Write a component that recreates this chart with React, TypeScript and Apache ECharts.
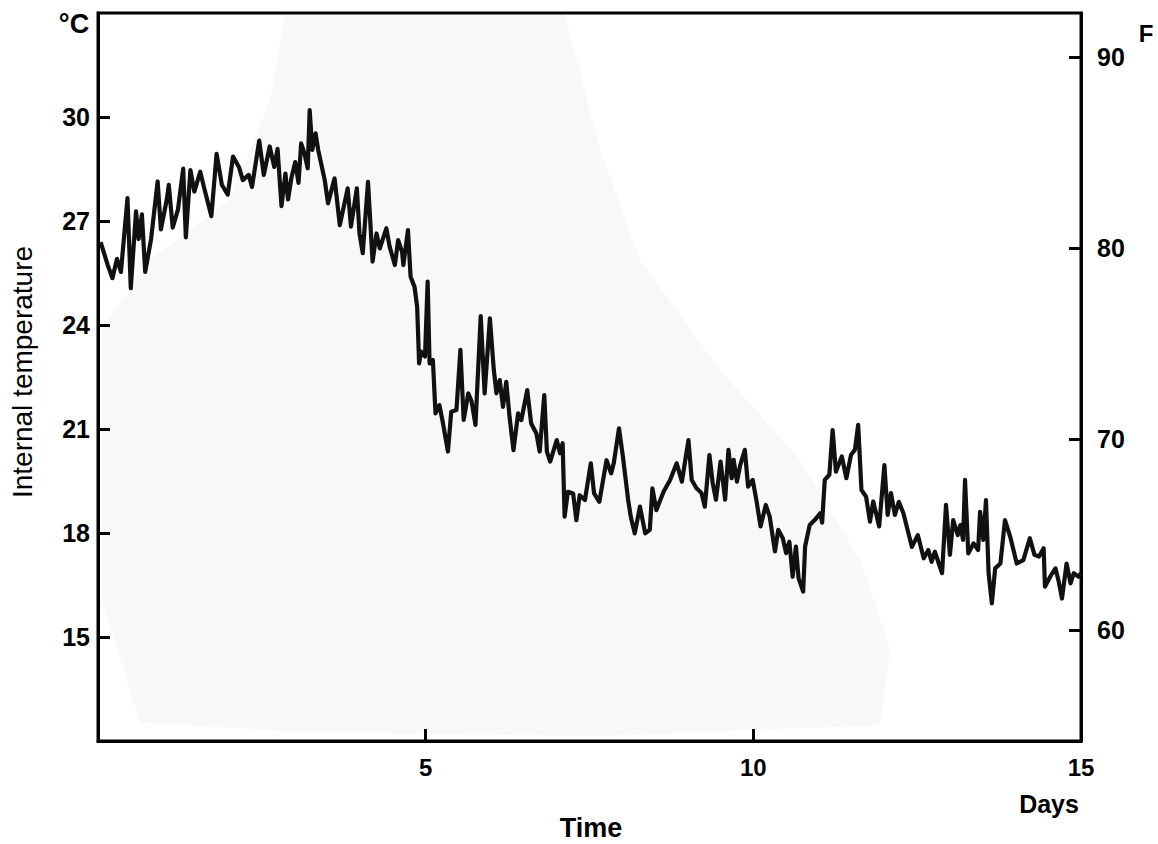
import React, { useEffect, useRef } from "react";
import * as echarts from "echarts";

// Time in days
const days = [
  0.04, 0.15, 0.22, 0.29, 0.35, 0.45, 0.5, 0.58, 0.62, 0.67, 0.72, 0.81, 0.91, 0.96, 1.05, 1.08, 1.14, 1.22, 1.3, 1.34,
  1.41, 1.47, 1.56, 1.62, 1.73, 1.81, 1.89, 1.98, 2.06, 2.15, 2.21, 2.3, 2.35, 2.46, 2.53, 2.62, 2.69, 2.74, 2.8, 2.86,
  2.9, 2.95, 3.01, 3.06, 3.1, 3.15, 3.2, 3.23, 3.27, 3.32, 3.36, 3.46, 3.51, 3.61, 3.69, 3.81, 3.86, 3.95, 3.99, 4.04,
  4.12, 4.19, 4.25, 4.3, 4.4, 4.45, 4.53, 4.58, 4.64, 4.66, 4.73, 4.77, 4.83, 4.87, 4.9, 4.93, 4.99, 5.03, 5.06, 5.11,
  5.15, 5.21, 5.26, 5.34, 5.39, 5.47, 5.53, 5.58, 5.65, 5.7, 5.76, 5.84, 5.9, 5.98, 6.04, 6.08, 6.13, 6.18, 6.23, 6.28,
  6.34, 6.41, 6.46, 6.55, 6.61, 6.69, 6.74, 6.81, 6.85, 6.9, 7.0, 7.05, 7.09, 7.12, 7.17, 7.25, 7.3, 7.35, 7.43, 7.52,
  7.57, 7.65, 7.76, 7.83, 7.87, 7.95, 8.01, 8.09, 8.13, 8.19, 8.27, 8.35, 8.42, 8.46, 8.52, 8.63, 8.73, 8.83, 8.91, 9.01,
  9.06, 9.13, 9.21, 9.26, 9.33, 9.38, 9.43, 9.5, 9.57, 9.62, 9.67, 9.7, 9.75, 9.8, 9.87, 9.92, 9.99, 10.05, 10.11, 10.19,
  10.25, 10.33, 10.38, 10.45, 10.5, 10.55, 10.6, 10.65, 10.69, 10.76, 10.79, 10.86, 10.94, 11.02, 11.05, 11.09, 11.16, 11.21, 11.26, 11.35,
  11.42, 11.49, 11.55, 11.6, 11.65, 11.72, 11.78, 11.83, 11.92, 12.0, 12.05, 12.1, 12.16, 12.22, 12.29, 12.36, 12.42, 12.51, 12.6, 12.67,
  12.72, 12.77, 12.88, 12.94, 13.0, 13.05, 13.12, 13.16, 13.2, 13.23, 13.28, 13.36, 13.43, 13.46, 13.51, 13.55, 13.59, 13.64, 13.69, 13.77,
  13.84, 13.92, 14.02, 14.12, 14.22, 14.29, 14.36, 14.43, 14.45, 14.53, 14.61, 14.66, 14.71, 14.78, 14.84, 14.89, 14.96, 15.0,
];

// Internal temperature, °C
const tempC = [
  26.39, 25.72, 25.35, 25.91, 25.53, 27.66, 25.06, 27.28, 26.48, 27.19, 25.53, 26.48, 28.14, 26.76, 27.62, 28.04, 26.81, 27.33, 28.51, 26.53,
  28.47, 27.85, 28.42, 27.95, 27.14, 28.94, 28.04, 27.76, 28.86, 28.56, 28.18, 28.33, 27.98, 29.32, 28.33, 29.15, 28.56, 29.08, 27.43, 28.37,
  27.62, 28.23, 28.7, 28.1, 29.24, 28.95, 28.52, 30.2, 29.05, 29.53, 29.05, 28.18, 27.51, 28.23, 26.88, 27.94, 26.84, 27.94, 26.64, 26.07,
  28.13, 25.83, 26.64, 26.21, 26.79, 26.26, 25.73, 26.45, 26.11, 25.73, 26.74, 25.39, 25.1, 24.53, 22.89, 23.23, 23.09, 25.25, 22.89, 22.99,
  21.45, 21.69, 21.21, 20.35, 21.5, 21.55, 23.28, 21.26, 22.03, 21.8, 21.12, 24.26, 22.03, 24.19, 22.7, 22.03, 22.41, 21.64, 22.36, 21.35,
  20.39, 21.45, 21.26, 22.12, 21.16, 20.87, 20.35, 21.98, 20.35, 20.06, 20.68, 20.3, 20.59, 18.47, 19.19, 19.14, 18.37, 19.09, 18.95, 20.01,
  19.14, 18.9, 20.1, 19.72, 20.01, 21.02, 20.2, 18.95, 18.47, 17.99, 18.76, 17.99, 18.09, 19.29, 18.66, 19.19, 19.53, 20.01, 19.48, 20.68,
  19.53, 19.3, 19.15, 18.76, 20.25, 19.44, 18.96, 20.06, 18.96, 20.4, 19.58, 20.11, 19.48, 19.96, 20.4, 19.34, 19.53, 18.91, 18.19, 18.81,
  18.47, 17.47, 18.09, 17.85, 17.42, 17.75, 16.74, 17.61, 16.7, 16.31, 17.61, 18.23, 18.38, 18.57, 18.3, 19.53, 19.68, 20.97, 19.77, 20.21,
  19.58, 20.25, 20.4, 21.12, 19.24, 19.05, 18.33, 18.91, 18.19, 19.96, 18.52, 19.15, 18.52, 18.9, 18.57, 18.04, 17.6, 17.94, 17.27, 17.51,
  17.17, 17.46, 16.84, 18.81, 17.37, 18.37, 17.94, 18.23, 17.8, 19.53, 17.41, 17.7, 17.51, 18.61, 17.8, 18.95, 16.84, 15.97, 16.98, 17.12,
  18.37, 17.89, 17.12, 17.22, 17.85, 17.37, 17.32, 17.56, 16.45, 16.74, 16.98, 16.6, 16.11, 17.12, 16.55, 16.84, 16.74, 16.84,
];

const celsiusTicks = [15, 18, 21, 24, 27, 30];
const fahrenheitTicks = [60, 70, 80, 90];
const dayLabels = [5, 10, 15];
const dayTicks = [5, 10];

const FONT = "'Liberation Sans', Arial, Helvetica, sans-serif";

export default function App() {
  const ref = useRef<HTMLDivElement>(null);

  useEffect(() => {
    if (!ref.current) return;
    const chart = echarts.init(ref.current, undefined, { renderer: "svg" });
    const data = days.map((d, i) => [d, tempC[i]]);

    chart.setOption({
      animation: false,
      backgroundColor: "#ffffff",
      grid: {
        left: 98,
        right: 77,
        top: 13,
        bottom: 103,
        show: true,
        borderColor: "#000",
        borderWidth: 3,
        backgroundColor: "transparent",
      },
      xAxis: {
        type: "value",
        min: 0,
        max: 15,
        interval: 5,
        splitLine: { show: false },
        axisLine: { show: true, lineStyle: { color: "#000", width: 3 } },
        axisTick: {
          show: true,
          inside: true,
          length: 12,
          customValues: dayTicks,
          lineStyle: { color: "#000", width: 3 },
        },
        axisLabel: {
          customValues: dayLabels,
          margin: 14,
          color: "#000",
          fontSize: 24,
          fontWeight: "bold",
          fontFamily: FONT,
        },
      },
      yAxis: [
        {
          type: "value",
          min: 12,
          max: 33,
          position: "left",
          splitLine: { show: false },
          axisLine: { show: true, lineStyle: { color: "#000", width: 3 } },
          axisTick: {
            show: true,
            inside: true,
            length: 12,
            customValues: celsiusTicks,
            lineStyle: { color: "#000", width: 3 },
          },
          axisLabel: {
            customValues: celsiusTicks,
            margin: 8,
            color: "#000",
            fontSize: 25,
            fontWeight: "bold",
            fontFamily: FONT,
          },
        },
        {
          type: "value",
          min: 54.2,
          max: 92.3,
          position: "right",
          splitLine: { show: false },
          axisLine: { show: true, lineStyle: { color: "#000", width: 3 } },
          axisTick: {
            show: true,
            inside: true,
            length: 12,
            customValues: fahrenheitTicks,
            lineStyle: { color: "#000", width: 3 },
          },
          axisLabel: {
            customValues: fahrenheitTicks,
            margin: 16,
            color: "#000",
            fontSize: 25,
            fontWeight: "bold",
            fontFamily: FONT,
          },
        },
      ],
      graphic: [
        {
          type: "polygon",
          z: 0,
          silent: true,
          shape: {
            points: [
              [285, 15], [565, 15], [600, 150], [640, 260], [720, 370], [800, 460], [860, 560],
              [890, 650], [880, 725], [600, 736], [300, 732], [140, 722], [102, 600], [102, 330],
              [150, 260], [230, 200], [270, 100],
            ],
          },
          style: { fill: "#f8f8f8" },
        },
        {
          type: "text",
          x: 74,
          y: 24,
          style: { text: "°C", font: `bold 27px ${FONT}`, fill: "#000", align: "center", verticalAlign: "middle" },
        },
        {
          type: "text",
          x: 1146,
          y: 33,
          style: { text: "F", font: `bold 24px ${FONT}`, fill: "#000", align: "center", verticalAlign: "middle" },
        },
        {
          type: "text",
          x: 22,
          y: 372,
          rotation: Math.PI / 2,
          style: {
            text: "Internal temperature",
            font: `28px ${FONT}`,
            fill: "#000",
            align: "center",
            verticalAlign: "middle",
          },
        },
        {
          type: "text",
          x: 591,
          y: 828,
          style: { text: "Time", font: `bold 27px ${FONT}`, fill: "#000", align: "center", verticalAlign: "middle" },
        },
        {
          type: "text",
          x: 1049,
          y: 804,
          style: { text: "Days", font: `bold 25px ${FONT}`, fill: "#000", align: "center", verticalAlign: "middle" },
        },
      ],
      series: [
        {
          type: "line",
          xAxisIndex: 0,
          yAxisIndex: 0,
          data,
          showSymbol: false,
          smooth: false,
          z: 5,
          lineStyle: { color: "#111", width: 4.2, join: "round" },
        },
      ],
    });

    return () => chart.dispose();
  }, []);

  return (
    <div
      ref={ref}
      style={{ position: "fixed", left: 0, top: 0, width: 1158, height: 844 }}
    />
  );
}
